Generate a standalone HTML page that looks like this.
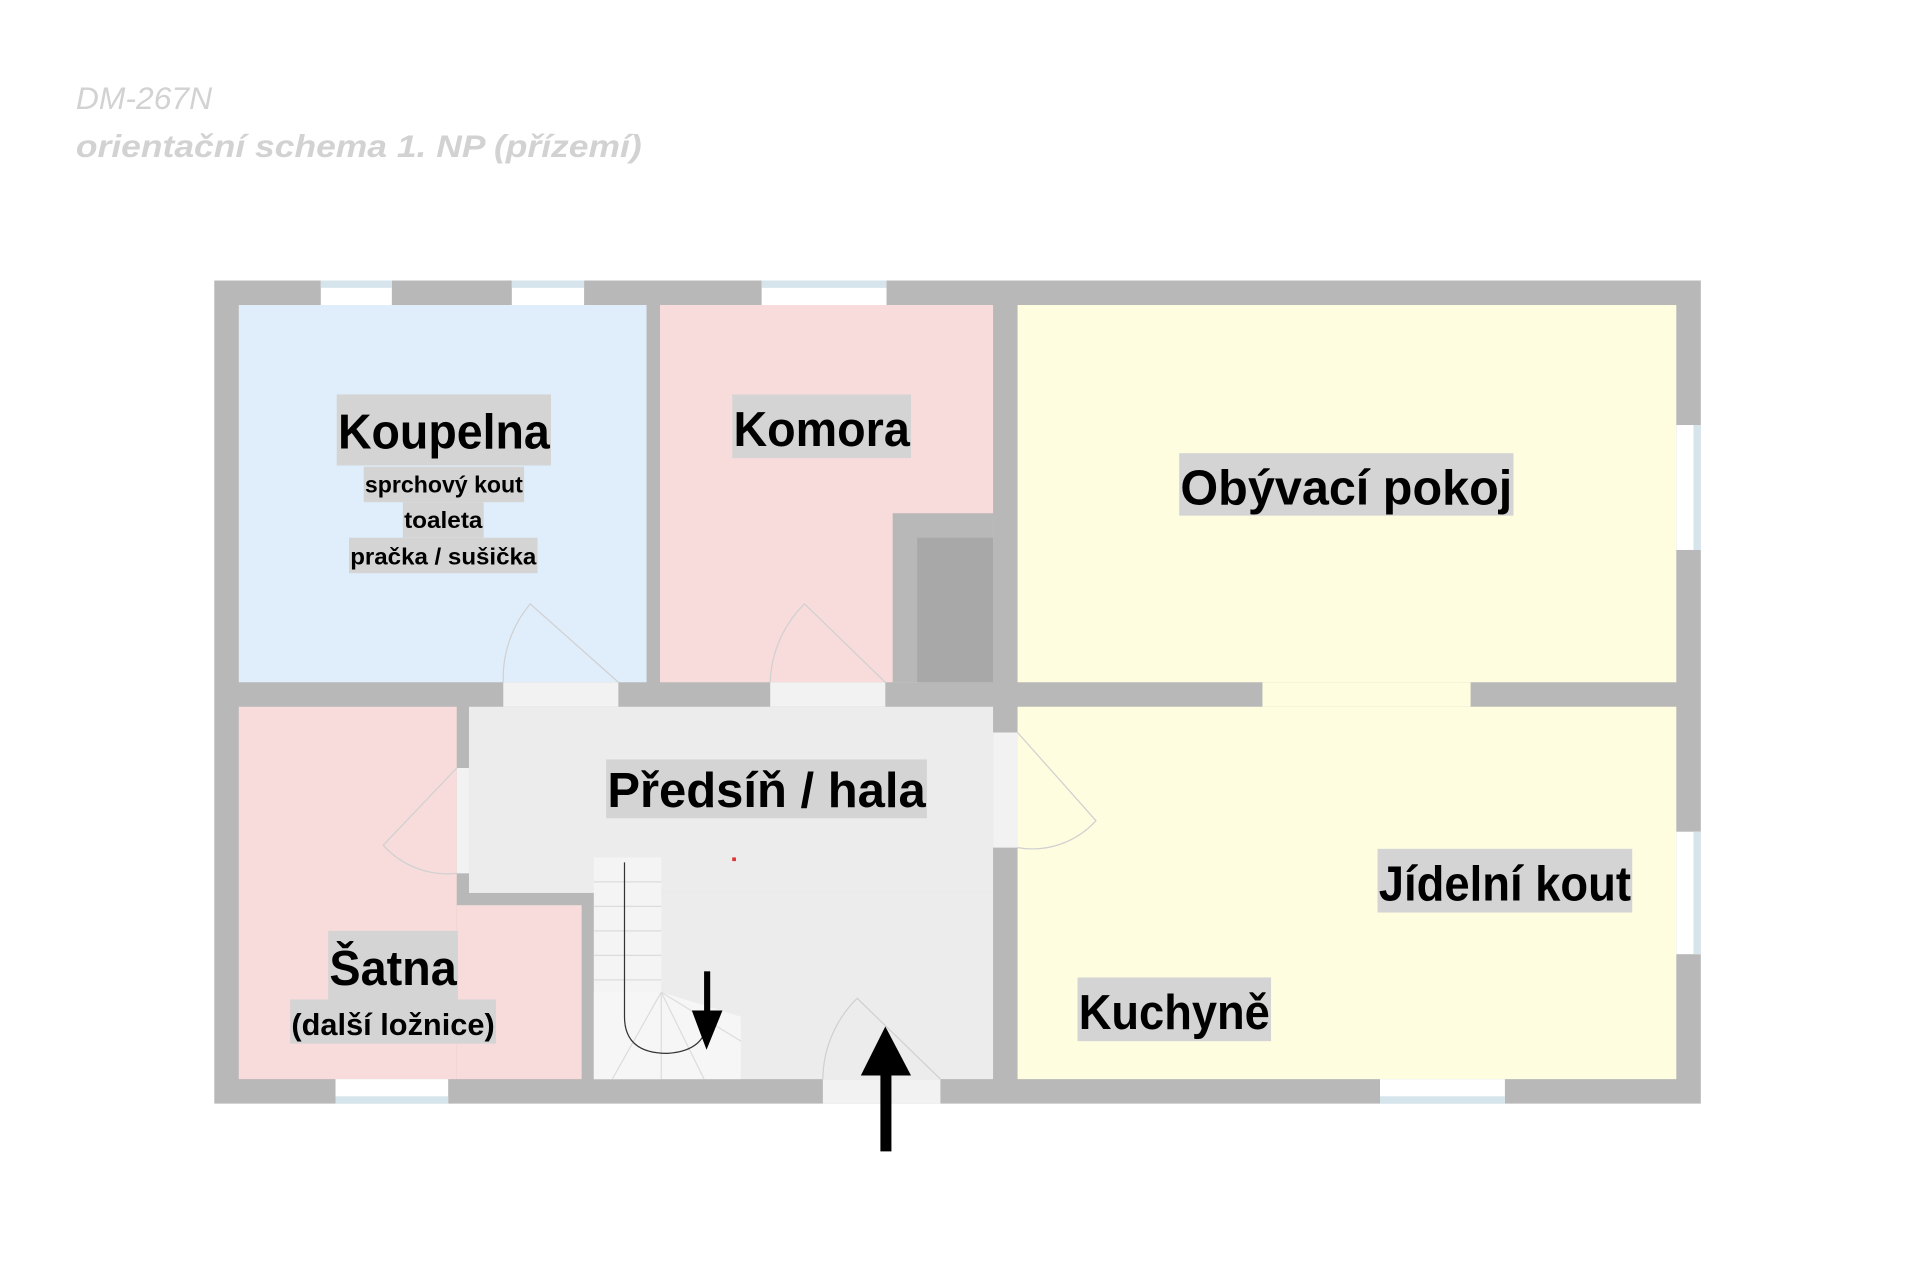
<!DOCTYPE html>
<html><head><meta charset="utf-8"><style>
html,body{margin:0;padding:0;background:#fff;}
svg{display:block;}
text{font-family:"Liberation Sans",sans-serif;}
</style></head><body>
<svg width="1920" height="1280" viewBox="0 0 1568 1045" preserveAspectRatio="none" xmlns="http://www.w3.org/2000/svg">
<rect width="1568" height="1045" fill="#fff"/>
<text x="62" y="89" font-size="26" font-style="italic" fill="#d2d2d2">DM-267N</text>
<text x="62" y="128" font-size="26" font-style="italic" font-weight="bold" fill="#d2d2d2" textLength="462" lengthAdjust="spacingAndGlyphs">orientační schema 1. NP (přízemí)</text>
<rect x="175" y="229" width="1214" height="672" fill="#b8b8b8"/>
<rect x="195" y="249" width="333" height="308" fill="#e0eefb"/>
<rect x="539" y="249" width="272" height="308" fill="#f8dcdb"/>
<rect x="831" y="249" width="538" height="308" fill="#fefde0"/>
<rect x="1031" y="557" width="170" height="20" fill="#fefde0"/>
<rect x="831" y="577" width="538" height="304" fill="#fefde0"/>
<rect x="195" y="577" width="178" height="304" fill="#f8dcdb"/>
<rect x="373" y="739" width="102" height="142" fill="#f8dcdb"/>
<rect x="383" y="577" width="428" height="152" fill="#ececec"/>
<rect x="485" y="729" width="326" height="152" fill="#ececec"/>
<rect x="729" y="419" width="82" height="138" fill="#b8b8b8"/>
<rect x="749" y="439" width="62" height="118" fill="#a8a8a8"/>
<g fill="#fff"><rect x="262" y="229" width="58" height="20"/><rect x="418" y="229" width="59" height="20"/><rect x="622" y="229" width="102" height="20"/>
<rect x="274" y="881" width="92" height="20"/><rect x="1127" y="881" width="102" height="20"/>
<rect x="1369" y="347" width="20" height="102"/><rect x="1369" y="679" width="20" height="100"/></g>
<g fill="#d6e4ec"><rect x="262" y="229" width="58" height="6"/><rect x="418" y="229" width="59" height="6"/><rect x="622" y="229" width="102" height="6"/>
<rect x="274" y="895" width="92" height="6"/><rect x="1127" y="895" width="102" height="6"/>
<rect x="1383" y="347" width="6" height="102"/><rect x="1383" y="679" width="6" height="100"/></g>
<g fill="#f2f2f2"><rect x="411" y="557" width="94" height="20"/><rect x="629" y="557" width="94" height="20"/>
<rect x="672" y="881" width="96" height="20"/><rect x="811" y="598" width="20" height="94"/><rect x="373" y="627" width="10" height="86"/></g>
<g fill="none" stroke="#d0d0d0" stroke-width="1">
<path d="M411 557 A94 94 0 0 1 433 493 L505 557"/>
<path d="M629 557 A94 94 0 0 1 657 493 L723 557"/>
<path d="M672 881 A94 94 0 0 1 700 815 L768 881"/>
<path d="M831 692 A70 70 0 0 0 895 670 L831 598"/>
<path d="M373 713 A70 70 0 0 1 313 690 L373 627"/>
</g>
<rect x="485" y="700" width="55" height="181" fill="#f4f4f4"/>
<path d="M485 810 L540 810 L605 830 L605 881 L485 881Z" fill="#f6f6f6"/>
<g stroke="#dcdcdc" stroke-width="1"><line x1="485" y1="720" x2="540" y2="720"/><line x1="485" y1="740" x2="540" y2="740"/><line x1="485" y1="760" x2="540" y2="760"/><line x1="485" y1="780" x2="540" y2="780"/><line x1="485" y1="800" x2="540" y2="800"/>
<line x1="540" y1="810" x2="500" y2="881"/><line x1="540" y1="810" x2="540" y2="881"/><line x1="540" y1="810" x2="575" y2="881"/><line x1="540" y1="810" x2="605" y2="850"/></g>
<path d="M510 704 L510 830 Q510 860 545 860 Q578 858 578 830" fill="none" stroke="#333" stroke-width="1"/>
<rect x="598" y="700" width="3" height="3" fill="#d33"/>
<rect x="575" y="793" width="5" height="38" fill="#000"/><path d="M565 825 L590 825 L577 857Z" fill="#000"/>
<rect x="719" y="875" width="9" height="65" fill="#000"/><path d="M703 878 L744 878 L723 838Z" fill="#000"/>
<g fill="#d4d4d4">
<rect x="275" y="322" width="175" height="58"/><rect x="297" y="381" width="131" height="29"/><rect x="329" y="410" width="66" height="29"/><rect x="285" y="439" width="154" height="29"/>
<rect x="598" y="322" width="146" height="52"/><rect x="963" y="370" width="273" height="51"/>
<rect x="495" y="620" width="262" height="48"/><rect x="268" y="760" width="106" height="56"/><rect x="237" y="816" width="168" height="36"/>
<rect x="1125" y="693" width="208" height="52"/><rect x="880" y="798" width="158" height="52"/></g>
<g fill="#000" font-weight="bold">
<text x="276" y="366" font-size="40" textLength="173" lengthAdjust="spacingAndGlyphs">Koupelna</text>
<text x="298" y="402" font-size="19" textLength="129" lengthAdjust="spacingAndGlyphs">sprchový kout</text>
<text x="330" y="431" font-size="19" textLength="64" lengthAdjust="spacingAndGlyphs">toaleta</text>
<text x="286" y="461" font-size="19" textLength="152" lengthAdjust="spacingAndGlyphs">pračka / sušička</text>
<text x="599" y="364" font-size="40" textLength="144" lengthAdjust="spacingAndGlyphs">Komora</text>
<text x="964" y="412" font-size="40" textLength="271" lengthAdjust="spacingAndGlyphs">Obývací pokoj</text>
<text x="496" y="659" font-size="40" textLength="260" lengthAdjust="spacingAndGlyphs">Předsíň / hala</text>
<text x="269" y="804" font-size="40" textLength="104" lengthAdjust="spacingAndGlyphs">Šatna</text>
<text x="238" y="845" font-size="25" textLength="166" lengthAdjust="spacingAndGlyphs">(další ložnice)</text>
<text x="1126" y="735" font-size="40" textLength="206" lengthAdjust="spacingAndGlyphs">Jídelní kout</text>
<text x="881" y="840" font-size="40" textLength="156" lengthAdjust="spacingAndGlyphs">Kuchyně</text>
</g>
</svg>
</body></html>
